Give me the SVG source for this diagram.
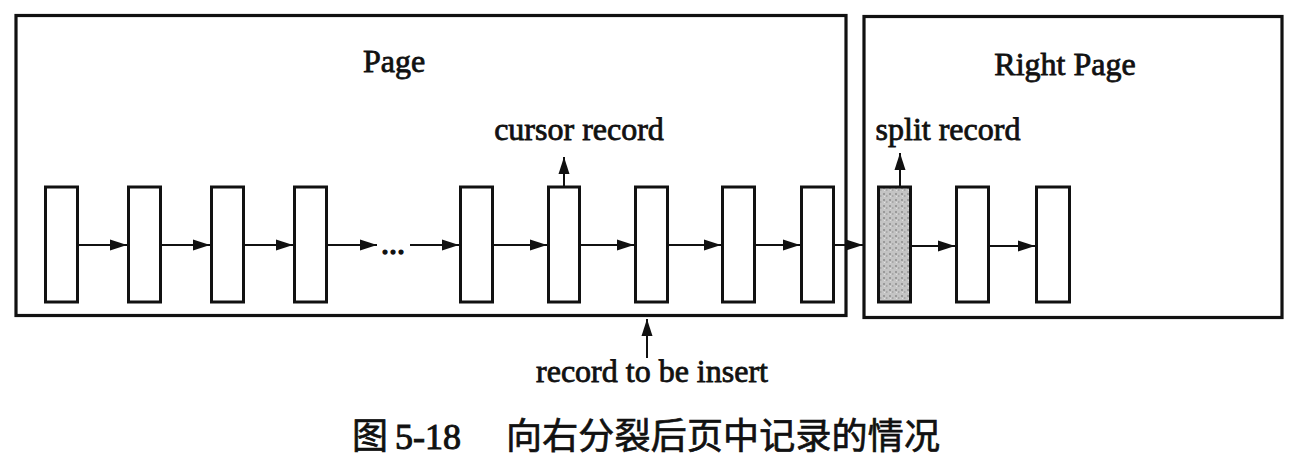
<svg xmlns="http://www.w3.org/2000/svg" width="1302" height="464" viewBox="0 0 1302 464">
<style>
.frame{fill:none;stroke:#111;stroke-width:3.2}
.rec{fill:#fff;stroke:#111;stroke-width:3}
.split{stroke:#111;stroke-width:3}
.conn{fill:none;stroke:#111;stroke-width:2;marker-end:url(#ah)}
.lbl{font-family:"Liberation Serif","Times New Roman",serif;font-size:32px;fill:#111;stroke:#111;stroke-width:0.8;text-anchor:middle}
.cap{font-family:"Noto Sans CJK SC","Noto Sans",sans-serif;font-size:36px;fill:#111;stroke:#111;stroke-width:0.7}
.capn{font-family:"Liberation Serif",serif;font-size:36px;fill:#111;stroke:#111;stroke-width:1}
</style>
<defs>
<marker id="ah" markerUnits="userSpaceOnUse" markerWidth="18" markerHeight="12" refX="17" refY="6" orient="auto">
<path d="M0,0.5 L17,6 L0,11.5 z" fill="#111"/>
</marker>
<pattern id="noise" width="6" height="6" patternUnits="userSpaceOnUse">
<rect width="6" height="6" fill="#c4c4c4"/>
<rect x="1" y="1" width="2" height="2" fill="#9a9a9a"/>
<rect x="4" y="3" width="1.5" height="2" fill="#a8a8a8"/>
<rect x="2" y="4" width="1" height="1" fill="#e0e0e0"/>
</pattern>
</defs>
<g id="page">
<rect class="frame" x="16" y="15.5" width="830" height="300"/>
<text class="lbl" x="394" y="72">Page</text>
</g>
<g id="right-page">
<rect class="frame" x="864" y="16.5" width="418" height="301"/>
<text class="lbl" x="1065" y="75">Right Page</text>
</g>
<g id="r1"><rect class="rec" x="45.5" y="187" width="32" height="115"/></g>
<g id="r2"><rect class="rec" x="128.5" y="187" width="32" height="115"/></g>
<g id="r3"><rect class="rec" x="211.5" y="187" width="32" height="115"/></g>
<g id="r4"><rect class="rec" x="294.5" y="187" width="32" height="115"/></g>
<g id="ellipsis"><text class="lbl" x="393" y="254" style="stroke-width:1.4">...</text></g>
<g id="r5"><rect class="rec" x="460.5" y="187" width="32" height="115"/></g>
<g id="cursor"><rect class="rec" x="548.5" y="187" width="31" height="115"/>
<text class="lbl" x="579" y="140">cursor record</text></g>
<g id="r7"><rect class="rec" x="635.5" y="187" width="32" height="115"/></g>
<g id="r8"><rect class="rec" x="722.5" y="187" width="32" height="115"/></g>
<g id="r9"><rect class="rec" x="801.5" y="187" width="32" height="115"/></g>
<g id="split"><rect class="split" x="878.5" y="187" width="32" height="115" fill="url(#noise)"/>
<text class="lbl" x="948" y="140">split record</text></g>
<g id="s2"><rect class="rec" x="956.5" y="187" width="32" height="115"/></g>
<g id="s3"><rect class="rec" x="1036.5" y="187" width="33" height="115"/></g>
<g id="insert"><text class="lbl" x="652" y="382">record to be insert</text></g>
<g id="connectors">
<line class="conn" x1="79" y1="245" x2="127" y2="245"/>
<line class="conn" x1="162" y1="245" x2="210" y2="245"/>
<line class="conn" x1="245" y1="245" x2="293" y2="245"/>
<line class="conn" x1="328" y1="245" x2="377" y2="245"/>
<line class="conn" x1="410" y1="245" x2="459" y2="245"/>
<line class="conn" x1="494" y1="245" x2="547" y2="245"/>
<line class="conn" x1="581" y1="245" x2="634" y2="245"/>
<line class="conn" x1="669" y1="245" x2="721" y2="245"/>
<line class="conn" x1="756" y1="245" x2="800" y2="245"/>
<line class="conn" x1="835" y1="245" x2="863" y2="245"/>
<line class="conn" x1="912" y1="246" x2="955" y2="246"/>
<line class="conn" x1="990" y1="246" x2="1035" y2="246"/>
<line class="conn" x1="564" y1="186" x2="564" y2="157"/>
<line class="conn" x1="900" y1="186" x2="900" y2="153"/>
<line class="conn" x1="647" y1="358" x2="647" y2="319"/>
</g>
<g id="caption">
<text class="cap" x="352" y="449">图</text>
<text class="capn" x="395" y="449">5-18</text>
<text class="cap" x="506" y="449" textLength="434" lengthAdjust="spacing">向右分裂后页中记录的情况</text>
</g>
</svg>
